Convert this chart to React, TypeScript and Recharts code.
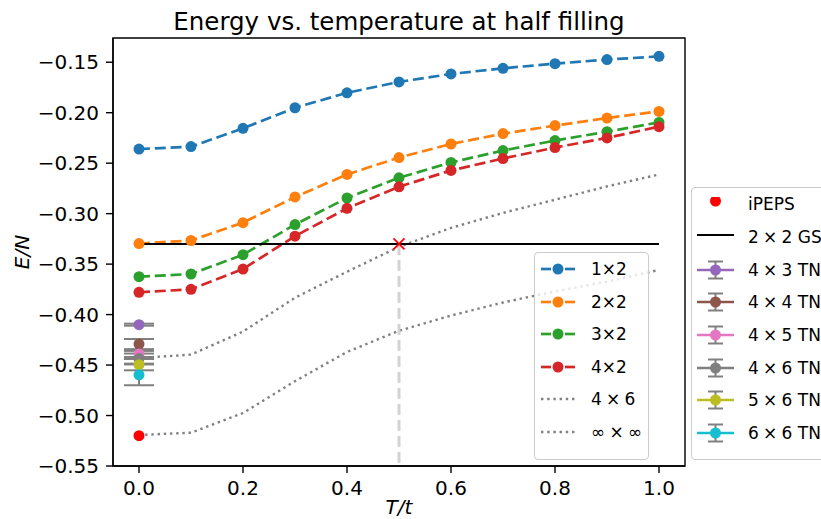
import React from "react";
import { ComposedChart, Line, XAxis, YAxis, ErrorBar, ReferenceArea } from "recharts";

if (typeof document !== "undefined") {
  document.body.style.margin = "0";
  document.body.style.overflow = "hidden";
}

const temps = [0, 0.1, 0.2, 0.3, 0.4, 0.5, 0.6, 0.7, 0.8, 0.9, 1.0];

const e1x2 = [-0.236, -0.2336, -0.2155, -0.1951, -0.1803, -0.1695, -0.1616, -0.156, -0.1514, -0.1474, -0.1442];
const e2x2 = [-0.3296, -0.3266, -0.3089, -0.2835, -0.2612, -0.2444, -0.231, -0.2207, -0.2128, -0.2053, -0.1987];
const e3x2 = [-0.3624, -0.3598, -0.3407, -0.3108, -0.2845, -0.2645, -0.2493, -0.2375, -0.2276, -0.2188, -0.2096];
const e4x2 = [-0.3779, -0.375, -0.3549, -0.3223, -0.2947, -0.2734, -0.2572, -0.2454, -0.2345, -0.225, -0.2138];
const e4x6 = [-0.443, -0.4397, -0.4168, -0.3833, -0.3575, -0.3329, -0.3141, -0.2993, -0.2862, -0.273, -0.2612];
const eInf = [-0.5193, -0.517, -0.4975, -0.466, -0.437, -0.416, -0.401, -0.388, -0.377, -0.3674, -0.3558];

const sizeLabels = ["1×2", "2×2", "3×2", "4×2"];
const sizeColors = ["#1f77b4", "#ff7f0e", "#2ca02c", "#d62728"];
const sizeEnergies = [e1x2, e2x2, e3x2, e4x2];

// math-style spacing around the times sign
const dottedLabels = ["4\u2005×\u20056", "∞\u2005×\u2005∞"];
const dottedEnergies = [e4x6, eInf];

const gsEnergy = -0.33;
const gsRange = [0, 1.0];
const crossT = 0.5;
const yBottom = -0.55;
const ipepsE = -0.52;

const tnLabels = [
  "4\u2005×\u20053 TN",
  "4\u2005×\u20054 TN",
  "4\u2005×\u20055 TN",
  "4\u2005×\u20056 TN",
  "5\u2005×\u20056 TN",
  "6\u2005×\u20056 TN",
];
const tnColors = ["#9467bd", "#8c564b", "#e377c2", "#7f7f7f", "#bcbd22", "#17becf"];
const tnE = [-0.41, -0.4292, -0.439, -0.4436, -0.4496, -0.4597];
const tnErr = [0.001, 0.005, 0.003, 0.005, 0.0056, 0.0103];

const xTicks = [0, 0.2, 0.4, 0.6, 0.8, 1.0];
const yTicks = [-0.55, -0.5, -0.45, -0.4, -0.35, -0.3, -0.25, -0.2, -0.15];
const xDomain = [-0.05, 1.05];
const yDomain = [-0.55, -0.126];

const FONT = "'DejaVu Sans', sans-serif";

const rows = (vals: number[]) => temps.map((t, i) => ({ T: t, E: vals[i] }));

const CrossDot = (props: any) => {
  const { cx, cy } = props;
  if (cx == null || cy == null) return null;
  const s = 5.5;
  return (
    <g stroke="red" strokeWidth={1.8}>
      <line x1={cx - s} y1={cy - s} x2={cx + s} y2={cy + s} />
      <line x1={cx - s} y1={cy + s} x2={cx + s} y2={cy - s} />
    </g>
  );
};

function SizeIcon({ color }: { color: string }) {
  return (
    <svg width={34} height={14} style={{ flex: "none" }}>
      <line x1={0} y1={7} x2={10} y2={7} stroke={color} strokeWidth={2.7} />
      <line x1={24} y1={7} x2={34} y2={7} stroke={color} strokeWidth={2.7} />
      <circle cx={17} cy={7} r={5.5} fill={color} />
    </svg>
  );
}

function DottedIcon() {
  return (
    <svg width={34} height={14} style={{ flex: "none" }}>
      <line x1={0} y1={7} x2={34} y2={7} stroke="gray" strokeWidth={2.4} strokeDasharray="2.4 3.8" />
    </svg>
  );
}

function TnIcon({ color }: { color: string }) {
  return (
    <svg width={37} height={20} style={{ flex: "none" }}>
      <line x1={18.5} y1={1.5} x2={18.5} y2={18.5} stroke="gray" strokeWidth={2} />
      <line x1={11} y1={1.5} x2={26} y2={1.5} stroke="gray" strokeWidth={2} />
      <line x1={11} y1={18.5} x2={26} y2={18.5} stroke="gray" strokeWidth={2} />
      <line x1={0} y1={10} x2={37} y2={10} stroke={color} strokeWidth={2.7} />
      <circle cx={18.5} cy={10} r={5.5} fill={color} />
    </svg>
  );
}

const legendBox: React.CSSProperties = {
  position: "absolute",
  background: "rgba(255,255,255,0.8)",
  border: "1px solid #cccccc",
  borderRadius: 4,
  boxSizing: "border-box",
  fontFamily: FONT,
  fontSize: 17,
  color: "#000",
};

const rowStyle = (h: number): React.CSSProperties => ({
  height: h,
  display: "flex",
  alignItems: "center",
  whiteSpace: "nowrap",
});

export default function App() {
  return (
    <div style={{ position: "relative", width: 821, height: 519, overflow: "hidden", background: "#fff" }}>
      <div
        style={{
          position: "absolute",
          left: 0,
          width: 798,
          top: 7,
          textAlign: "center",
          fontFamily: FONT,
          fontSize: 24.5,
          lineHeight: "30px",
          color: "#000",
        }}
      >
        Energy vs. temperature at half filling
      </div>

      <ComposedChart width={821} height={519} margin={{ top: 38, right: 136, bottom: 0, left: 0 }}>
        <XAxis
          type="number"
          dataKey="T"
          domain={xDomain}
          ticks={xTicks}
          allowDataOverflow
          tickFormatter={(v: number) => v.toFixed(1)}
          height={53}
          tickSize={7}
          tickMargin={8}
          stroke="#000"
          strokeWidth={1.4}
          tick={{ fill: "#000", fontSize: 20, fontFamily: FONT }}
        />
        <YAxis
          type="number"
          domain={yDomain}
          ticks={yTicks}
          allowDataOverflow
          tickFormatter={(v: number) => "−" + Math.abs(v).toFixed(2)}
          width={113}
          tickSize={7}
          tickMargin={7}
          stroke="#000"
          strokeWidth={1.4}
          tick={{ fill: "#000", fontSize: 20, fontFamily: FONT }}
        />
        <ReferenceArea
          x1={xDomain[0]}
          x2={xDomain[1]}
          y1={yDomain[0]}
          y2={yDomain[1]}
          fill="none"
          fillOpacity={0}
          stroke="#000"
          strokeWidth={1.4}
        />

        {sizeEnergies.map((vals, i) => (
          <Line
            key={sizeLabels[i]}
            data={rows(vals)}
            dataKey="E"
            stroke={sizeColors[i]}
            strokeWidth={2.7}
            strokeDasharray="11 4.8"
            dot={{ r: 5.5, fill: sizeColors[i], stroke: sizeColors[i], strokeWidth: 0 }}
            activeDot={false}
            isAnimationActive={false}
          />
        ))}

        {dottedEnergies.map((vals, i) => (
          <Line
            key={dottedLabels[i]}
            data={rows(vals)}
            dataKey="E"
            stroke="gray"
            strokeWidth={2.4}
            strokeDasharray="2.4 3.8"
            dot={false}
            activeDot={false}
            isAnimationActive={false}
          />
        ))}

        <Line
          data={[
            { T: crossT, E: gsEnergy },
            { T: crossT, E: yBottom },
          ]}
          dataKey="E"
          stroke="#d3d3d3"
          strokeWidth={3}
          strokeDasharray="11 5"
          dot={false}
          activeDot={false}
          isAnimationActive={false}
        />
        <Line
          data={gsRange.map((t) => ({ T: t, E: gsEnergy }))}
          dataKey="E"
          stroke="#000"
          strokeWidth={2}
          dot={false}
          activeDot={false}
          isAnimationActive={false}
        />
        <Line
          data={[{ T: crossT, E: gsEnergy }]}
          dataKey="E"
          stroke="none"
          dot={<CrossDot />}
          activeDot={false}
          isAnimationActive={false}
        />
        <Line
          data={[{ T: 0, E: ipepsE }]}
          dataKey="E"
          stroke="none"
          dot={{ r: 5.5, fill: "red", stroke: "red", strokeWidth: 0 }}
          activeDot={false}
          isAnimationActive={false}
        />
        {tnE.map((e, i) => (
          <Line
            key={tnLabels[i]}
            data={[{ T: 0, E: e, err: tnErr[i] }]}
            dataKey="E"
            stroke="none"
            dot={{ r: 5.5, fill: tnColors[i], stroke: tnColors[i], strokeWidth: 0 }}
            activeDot={false}
            isAnimationActive={false}
          >
            <ErrorBar dataKey="err" direction="y" width={15} stroke="gray" strokeWidth={2} />
          </Line>
        ))}
      </ComposedChart>

      <div
        style={{
          position: "absolute",
          left: 380,
          width: 38,
          top: 494,
          textAlign: "center",
          fontFamily: FONT,
          fontSize: 20,
          fontStyle: "italic",
          lineHeight: "26px",
          color: "#000",
        }}
      >
        T/t
      </div>
      <div
        style={{
          position: "absolute",
          left: 22,
          top: 252,
          transform: "translate(-50%, -50%) rotate(-90deg)",
          fontFamily: FONT,
          fontSize: 20,
          fontStyle: "italic",
          whiteSpace: "nowrap",
          color: "#000",
        }}
      >
        E/N
      </div>

      <div style={{ ...legendBox, left: 534, top: 252, width: 115, height: 208, paddingLeft: 6 }}>
        {sizeLabels.map((lab, i) => (
          <div key={lab} style={rowStyle(32.5)}>
            <SizeIcon color={sizeColors[i]} />
            <span style={{ marginLeft: 16 }}>{lab}</span>
          </div>
        ))}
        {dottedLabels.map((lab) => (
          <div key={lab} style={rowStyle(32.5)}>
            <DottedIcon />
            <span style={{ marginLeft: 16 }}>{lab}</span>
          </div>
        ))}
      </div>

      <div style={{ ...legendBox, left: 691, top: 187, width: 150, height: 273, paddingLeft: 5 }}>
        <div style={rowStyle(32.7)}>
          <svg width={37} height={14} style={{ flex: "none" }}>
            <circle cx={18.5} cy={4} r={5.5} fill="red" />
          </svg>
          <span style={{ marginLeft: 14 }}>iPEPS</span>
        </div>
        <div style={rowStyle(32.7)}>
          <svg width={37} height={14} style={{ flex: "none" }}>
            <line x1={0} y1={5} x2={37} y2={5} stroke="#000" strokeWidth={2} />
          </svg>
          <span style={{ marginLeft: 14 }}>2{"\u2005"}×{"\u2005"}2 GS</span>
        </div>
        {tnLabels.map((lab, i) => (
          <div key={lab} style={rowStyle(32.7)}>
            <TnIcon color={tnColors[i]} />
            <span style={{ marginLeft: 14 }}>{lab}</span>
          </div>
        ))}
      </div>
    </div>
  );
}
